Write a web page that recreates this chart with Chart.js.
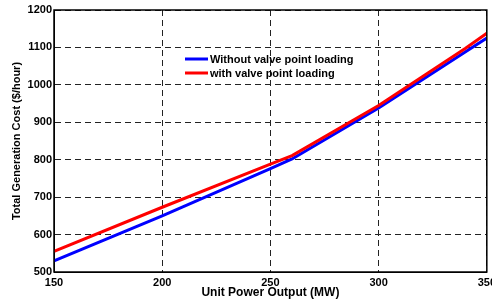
<!DOCTYPE html>
<html>
<head>
<meta charset="utf-8">
<script src="https://cdn.jsdelivr.net/npm/chart.js@4/dist/chart.umd.min.js"></script>
<style>
  html, body { margin: 0; padding: 0; background: #fff; overflow: hidden; }
  #wrap { width: 492px; height: 301px; overflow: hidden; }
</style>
</head>
<body>
<div id="wrap"><canvas id="myChart" width="500" height="301"></canvas></div>
<script>
// values
var power = [150, 200, 250, 260, 300, 340, 350];
var costWithout = [530, 650, 776, 802, 938, 1088, 1125];
var costWith = [555, 673, 788, 811, 945, 1097, 1138];
var xTicks = [150, 200, 250, 300, 350];
var yTicks = [500, 600, 700, 800, 900, 1000, 1100, 1200];
var seriesNames = ['Without valve point loading', 'with valve point loading'];

var FONT = 'Liberation Sans, Arial, sans-serif';

toPoints = (xs, ys) => xs.map((x, i) => ({ x: x, y: ys[i] }));

// frame + legend drawn the matlab way
var matlabBits = {
    id: 'matlabBits',
    afterDatasetsDraw: (chart) => {
        const ctx = chart.ctx;
        const a = chart.chartArea;
        ctx.save();
        ctx.strokeStyle = '#000';
        ctx.lineWidth = 1.5;
        ctx.strokeRect(a.left, a.top, a.right - a.left, a.bottom - a.top);

        ctx.font = 'bold 11px ' + FONT;
        ctx.textBaseline = 'middle';
        ctx.fillStyle = '#000';
        chart.data.datasets.forEach((ds, i) => {
            const y = 59 + i * 14;
            ctx.strokeStyle = ds.borderColor;
            ctx.lineWidth = 3;
            ctx.beginPath();
            ctx.moveTo(185, y);
            ctx.lineTo(208, y);
            ctx.stroke();
            ctx.fillText(ds.label, 210, y + 0.5);
        });
        ctx.restore();
    }
};

var ctx = document.getElementById('myChart');
var chart = new Chart(ctx, {
    type: 'line',
    data: {
        datasets: [
            {
                label: seriesNames[0],
                data: toPoints(power, costWithout),
                borderColor: '#0000ff',
                borderWidth: 3,
                pointRadius: 0,
                fill: false,
                tension: 0,
                order: 1
            },
            {
                label: seriesNames[1],
                data: toPoints(power, costWith),
                borderColor: '#ff0000',
                borderWidth: 3,
                pointRadius: 0,
                fill: false,
                tension: 0,
                order: 0
            }
        ]
    },
    options: {
        responsive: false,
        animation: false,
        layout: { padding: { top: 10, right: 0, left: 0, bottom: 0 } },
        plugins: {
            legend: { display: false },
            tooltip: { enabled: false }
        },
        scales: {
            x: {
                type: 'linear',
                min: 150,
                max: 350,
                afterBuildTicks: (s) => { s.ticks = xTicks.map(v => ({ value: v })); },
                afterFit: (s) => { s.height = 29; },
                ticks: {
                    color: '#000',
                    padding: 4,
                    maxRotation: 0,
                    callback: (v) => String(v),
                    font: { family: FONT, size: 11, weight: 'bold' }
                },
                grid: { color: '#222', lineWidth: 1, drawTicks: false },
                border: { display: true, color: '#000', dash: [6, 4] },
                title: {
                    display: true,
                    text: 'Unit Power Output (MW)',
                    color: '#000',
                    padding: { top: 0, bottom: 1 },
                    font: { family: FONT, size: 12, weight: 'bold' }
                }
            },
            y: {
                min: 500,
                max: 1200,
                afterBuildTicks: (s) => { s.ticks = yTicks.map(v => ({ value: v })); },
                afterFit: (s) => { s.width = 54; },
                ticks: {
                    color: '#000',
                    padding: 2,
                    callback: (v) => String(v),
                    font: { family: FONT, size: 11, weight: 'bold' }
                },
                grid: { color: '#222', lineWidth: 1, drawTicks: false },
                border: { display: true, color: '#000', dash: [6, 4] },
                title: {
                    display: true,
                    text: 'Total Generation Cost ($/hour)',
                    color: '#000',
                    padding: { top: 10, bottom: 0 },
                    font: { family: FONT, size: 11, weight: 'bold' }
                }
            }
        }
    },
    plugins: [matlabBits]
});
</script>
</body>
</html>
